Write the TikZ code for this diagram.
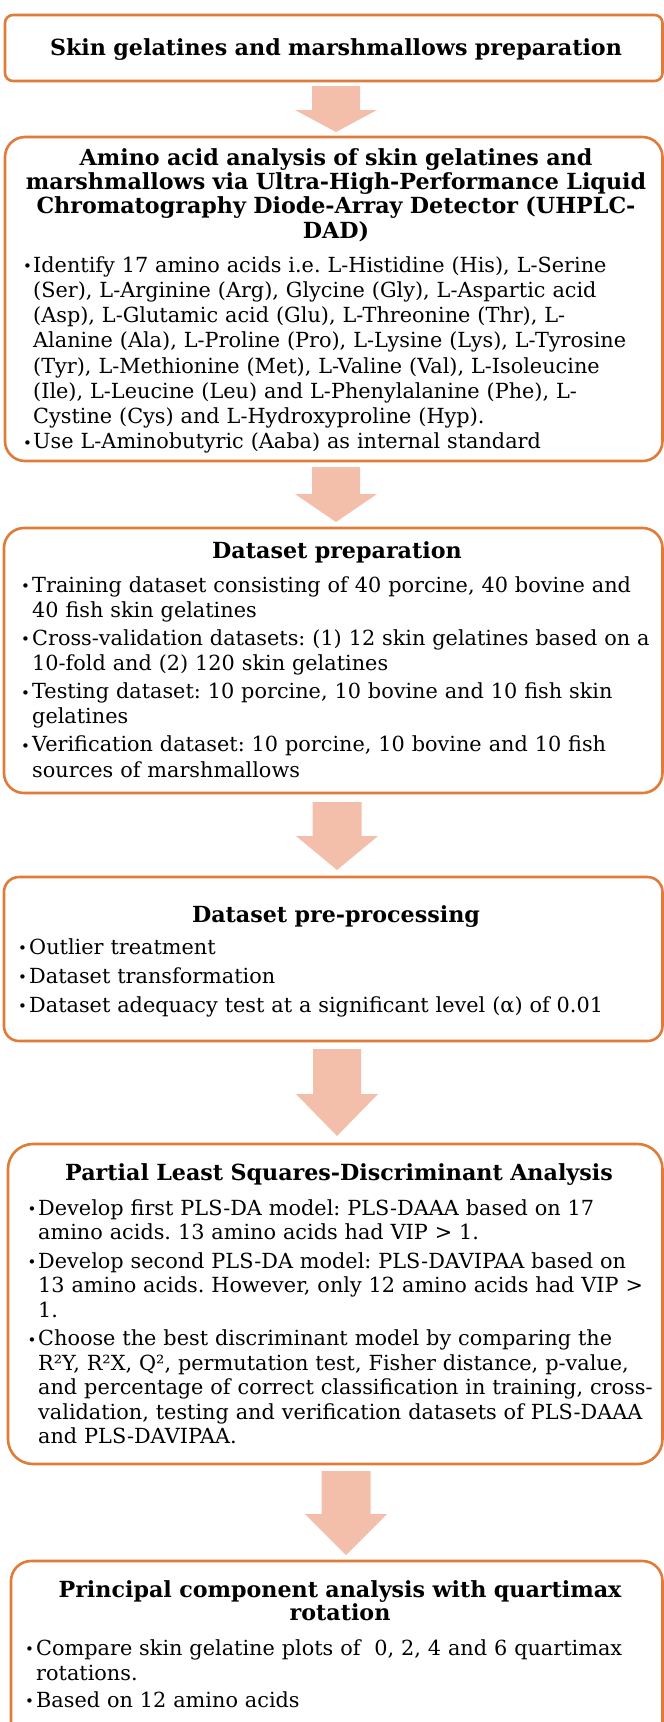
\documentclass[tikz,border=0pt]{standalone}
\usepackage{fontspec}
\setmainfont{DejaVu Serif}
\frenchspacing
\definecolor{boxorange}{HTML}{E07B39}
\definecolor{arrowfill}{HTML}{F4BFAA}
\newcommand{\bul}[1]{\makebox[#1][l]{\fontsize{15}{15}\selectfont\raisebox{0.5pt}{•}}}
\newcommand{\blkarrow}[6]{%
  \fill[blockarrow] ({#1-#5},{-#2}) -- ({#1+#5},{-#2}) -- ({#1+#5},{-#3}) -- ({#1+#6},{-#3})
    -- (#1,{-#4}) -- ({#1-#6},{-#3}) -- ({#1-#5},{-#3}) -- cycle;}
\tikzset{
  framebox/.style={draw=boxorange, line width=2.6pt, inner sep=0pt, rectangle},
  bodytext/.style={anchor=north west, inner sep=0pt, text width=700pt, align=left,
    font=\fontsize{20.8}{25.2}\selectfont},
  titletext/.style={anchor=north, inner sep=0pt, text width=660pt, align=center,
    font=\fontsize{22.2}{24.3}\selectfont\bfseries},
  blockarrow/.style={fill=arrowfill, draw=none}
}
\begin{document}
\begin{tikzpicture}[x=1pt,y=1pt]
\useasboundingbox[fill=white] (0,0) rectangle (664,-1722);

% frames
\node[framebox, rounded corners=8pt, minimum width=657.5pt, minimum height=66pt] (b1) at (333.75,-48) {};
\node[framebox, rounded corners=20pt, minimum width=657.5pt, minimum height=324pt] (b2) at (333.75,-299) {};
\node[framebox, rounded corners=20pt, minimum width=658.5pt, minimum height=265pt] (b3) at (333.25,-660.5) {};
\node[framebox, rounded corners=15pt, minimum width=658.5pt, minimum height=164pt] (b4) at (333.25,-959) {};
\node[framebox, rounded corners=25pt, minimum width=654.5pt, minimum height=320pt] (b5) at (335.25,-1304) {};
\node[framebox, rounded corners=20pt, minimum width=651.5pt, minimum height=201pt] (b6) at (336.75,-1661.5) {};

% block arrows
\blkarrow{336}{86}{110}{132}{24}{41}
\blkarrow{336}{467}{494}{522}{24}{41}
\blkarrow{337}{802}{836}{870}{24.5}{41}
\blkarrow{337}{1049}{1094}{1136}{24}{41}
\blkarrow{346}{1471}{1514}{1555}{24.5}{41}

% box 1
\node[titletext] (t1) at (336,-35) {\rule{0pt}{20pt}Skin gelatines and marshmallows preparation};

% box 2
\node[titletext] (t2) at (336,-145) {\rule{0pt}{20pt}Amino acid analysis of skin gelatines and\\
marshmallows via Ultra-High-Performance Liquid\\
Chromatography Diode-Array Detector (UHPLC-\\
DAD)};
\node[bodytext] (l2) at (23,-254) {\rule{0pt}{18pt}\bul{10pt}Identify 17 amino acids i.e. L-Histidine (His), L-Serine\\
\hspace*{10pt}(Ser), L-Arginine (Arg), Glycine (Gly), L-Aspartic acid\\
\hspace*{10pt}(Asp), L-Glutamic acid (Glu), L-Threonine (Thr), L-\\
\hspace*{10pt}Alanine (Ala), L-Proline (Pro), L-Lysine (Lys), L-Tyrosine\\
\hspace*{10pt}(Tyr), L-Methionine (Met), L-Valine (Val), L-Isoleucine\\
\hspace*{10pt}(Ile), L-Leucine (Leu) and L-Phenylalanine (Phe), L-\\
\hspace*{10pt}Cystine (Cys) and L-Hydroxyproline (Hyp).\\
\bul{10pt}Use L-Aminobutyric (Aaba) as internal standard};

% box 3
\node[titletext] (t3) at (337,-538) {\rule{0pt}{20pt}Dataset preparation};
\node[bodytext] (l3) at (21,-574) {\rule{0pt}{18pt}\bul{11pt}Training dataset consisting of 40 porcine, 40 bovine and\\
\hspace*{11pt}40 fish skin gelatines\\[2.8pt]
\bul{11pt}Cross-validation datasets: (1) 12 skin gelatines based on a\\
\hspace*{11pt}10-fold and (2) 120 skin gelatines\\[2.8pt]
\bul{11pt}Testing dataset: 10 porcine, 10 bovine and 10 fish skin\\
\hspace*{11pt}gelatines\\[2.8pt]
\bul{11pt}Verification dataset: 10 porcine, 10 bovine and 10 fish\\
\hspace*{11pt}sources of marshmallows};

% box 4
\node[titletext] (t4) at (336,-902) {\rule{0pt}{20pt}Dataset pre-processing};
\node[bodytext, font=\fontsize{20.8}{29}\selectfont] (l4) at (18,-936) {\rule{0pt}{18pt}\bul{11pt}Outlier treatment\\
\bul{11pt}Dataset transformation\\
\bul{11pt}Dataset adequacy test at a significant level (α) of 0.01};

% box 5
\node[titletext] (t5) at (339,-1160) {\rule{0pt}{20pt}Partial Least Squares-Discriminant Analysis};
\node[bodytext, font=\fontsize{20.8}{24.5}\selectfont] (l5) at (27.5,-1197) {\rule{0pt}{18pt}\bul{10.5pt}Develop first PLS-DA model: PLS-DAAA based on 17\\
\hspace*{10.5pt}amino acids. 13 amino acids had VIP > 1.\\[4pt]
\bul{10.5pt}Develop second PLS-DA model: PLS-DAVIPAA based on\\
\hspace*{10.5pt}13 amino acids. However, only 12 amino acids had VIP >\\
\hspace*{10.5pt}1.\\[4pt]
\bul{10.5pt}Choose the best discriminant model by comparing the\\
\hspace*{10.5pt}R²Y, R²X, Q², permutation test, Fisher distance, p-value,\\
\hspace*{10.5pt}and percentage of correct classification in training, cross-\\
\hspace*{10.5pt}validation, testing and verification datasets of PLS-DAAA\\
\hspace*{10.5pt}and PLS-DAVIPAA.};

% box 6
\node[titletext, font=\fontsize{22.2}{23}\selectfont\bfseries] (t6) at (340,-1577) {\rule{0pt}{20pt}Principal component analysis with quartimax\\
rotation};
\node[bodytext, font=\fontsize{20.8}{25}\selectfont] (l6) at (25,-1637) {\rule{0pt}{18pt}\bul{11pt}Compare skin gelatine plots of\ \ 0, 2, 4 and 6 quartimax\\
\hspace*{11pt}rotations.\\[2pt]
\bul{11pt}Based on 12 amino acids};
\end{tikzpicture}
\end{document}
